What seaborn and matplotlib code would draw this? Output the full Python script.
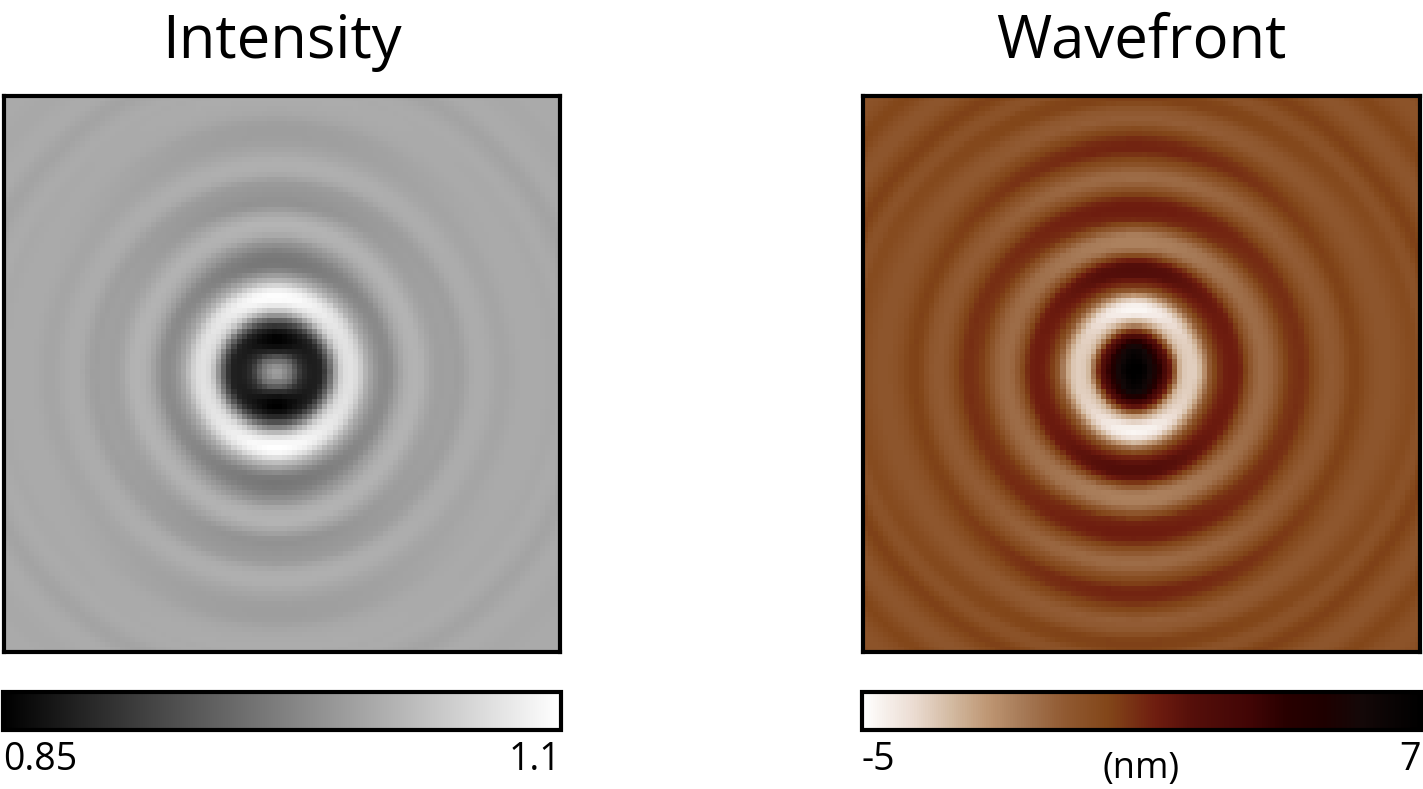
import numpy as np
import pandas as pd
import matplotlib.pyplot as plt
import seaborn as sns
from matplotlib.colors import LinearSegmentedColormap

# Radial profiles, one value per 5 px of radius
# Intensity as grey level (0-255), along the horizontal and vertical cuts
intensity_h = [160, 155, 135, 115, 80, 50, 38, 30, 30, 35, 70, 120, 175, 212, 223, 226, 218, 200, 175, 160,
               148, 140, 138, 142, 155, 166, 174, 178, 179, 177, 170, 164, 160, 159, 160, 160, 158, 160, 165, 170,
               172, 172, 171, 169, 166, 165, 165, 167, 169, 170, 170, 170, 170, 170, 169, 168, 168]
intensity_v = [160, 150, 120, 90, 40, 15, 2, 0, 12, 40, 80, 130, 185, 225, 248, 255, 248, 225, 190, 165,
               140, 122, 118, 120, 125, 138, 148, 165, 175, 179, 180, 172, 163, 150, 145, 148, 150, 152, 155, 165,
               172, 175, 175, 172, 167, 164, 160, 158, 158, 158, 160, 165, 168, 170, 171, 172, 172]
intensity_tail = [170, 171, 170, 168, 165, 163, 164, 167, 170, 171, 171, 170, 169, 168, 168, 168, 169, 170, 170, 170,
                  170, 170, 170, 170]

# Wavefront as position along the colour bar (0 = -5 nm, 1 = 7 nm)
wavefront_h = [1.0, 1.0, .97, .90, .85, .75, .65, .55, .36, .18, .13, .12, .12, .16, .25, .36, .44, .49, .52, .53,
               .53, .51, .45, .38, .34, .32, .32, .33, .35, .39, .44, .47, .48, .49, .48, .45, .42, .39, .37, .36,
               .37, .38, .41, .44, .45, .44, .42, .40, .39, .38, .38, .38, .39, .40, .41, .42, .42]
wavefront_v = [1.0, 1.0, .99, .97, .95, .88, .75, .62, .47, .25, .14, .05, .02, .04, .12, .24, .38, .48, .54, .60,
               .61, .60, .53, .42, .31, .27, .27, .28, .34, .42, .50, .52, .53, .53, .51, .46, .40, .35, .32, .32,
               .34, .39, .43, .47, .51, .51, .50, .46, .43, .38, .35, .36, .37, .41, .45, .45, .44]
wavefront_tail = [.40, .39, .40, .43, .45, .45, .43, .41, .39, .38, .38, .39, .41, .43, .44, .43, .41, .40, .39, .39,
                  .39, .40, .41, .42]

intensity_range = [0.85, 1.1]
wavefront_range = [-5, 7]

# Colour bar of the wavefront panel
wave_stops = [0, .09, .16, .225, .29, .36, .44, .527, .59, .695, .76, .83, .896, 1]
wave_colors = ['#ffffff', '#ebdcd2', '#d2b9a0', '#be9673', '#a57855', '#915a32', '#824619', '#6e1c0f',
               '#550f0a', '#410505', '#280000', '#1e0000', '#140808', '#000000']
wave_cmap = LinearSegmentedColormap.from_list('wave', list(zip(wave_stops, wave_colors)))

W, H = 1423, 789
CELL = 5.05
N_CELLS = 110
SUB = 6


def radial_grid(prof_h, prof_v, tail, cx, cy):
    # every cell averages the profile bins under it, horizontal and vertical cuts weighted by angle
    h = np.array(prof_h + tail, dtype=float)
    v = np.array(prof_v + tail, dtype=float)
    pos = (np.arange(N_CELLS * SUB) + 0.5) * CELL / SUB
    dx, dy = np.meshgrid(pos - cx, pos - cy)
    r = np.hypot(dx, dy)
    k = np.minimum(np.round(r / 5).astype(int), len(h) - 1)
    w = (dy ** 2 / np.maximum(r ** 2, 1e-6)) ** 2
    fine = (1 - w) * h[k] + w * v[k]
    return fine.reshape(N_CELLS, SUB, N_CELLS, SUB).mean(axis=(1, 3))


def px_axes(x0, y0, x1, y1):
    return fig.add_axes([x0 / W, 1 - y1 / H, (x1 - x0) / W, (y1 - y0) / H])


sns.set_theme(style='white')
plt.rcParams['font.family'] = ['Open Sans', 'DejaVu Sans']

fig = plt.figure(figsize=(W / 100, H / 100), dpi=100)

grey = radial_grid(intensity_h, intensity_v, intensity_tail, 272, 276)
wave = radial_grid(wavefront_h, wavefront_v, wavefront_tail, 271, 274)
intensity_df = pd.DataFrame(intensity_range[0] + grey / 255 * (intensity_range[1] - intensity_range[0]))
wavefront_df = pd.DataFrame(wavefront_range[0] + wave * (wavefront_range[1] - wavefront_range[0]))

panels = [
    (intensity_df, 'gray', intensity_range, ['0.85', '1.1'], 'Intensity', (4, 96, 560, 652), (3, 692, 561, 730)),
    (wavefront_df, wave_cmap, wavefront_range, ['-5', '7'], 'Wavefront', (863, 96, 1420, 652), (862, 692, 1421, 730)),
]

for df, cmap, rng, labels, title, box, cbox in panels:
    ax = px_axes(*box)
    cax = px_axes(*cbox)
    sns.heatmap(df, ax=ax, cmap=cmap, vmin=rng[0], vmax=rng[1], xticklabels=False, yticklabels=False,
                cbar_ax=cax, cbar_kws={'orientation': 'horizontal'})
    for spine in ax.spines.values():
        spine.set_visible(True)
        spine.set_color('black')
        spine.set_linewidth(3)

    cbar = ax.collections[0].colorbar
    cbar.outline.set_edgecolor('black')
    cbar.outline.set_linewidth(3)
    cbar.set_ticks(rng)
    cbar.set_ticklabels(labels)
    cax.tick_params(axis='x', length=0, pad=8, labelsize=27, labelcolor='black')
    tick_labels = cax.get_xticklabels()
    tick_labels[0].set_ha('left')
    tick_labels[1].set_ha('right')

    fig.text((box[0] + box[2]) / 2 / W, 1 - 58 / H, title, ha='center', va='baseline', fontsize=43, color='black')

fig.text(1141 / W, 1 - 778 / H, '(nm)', ha='center', va='baseline', fontsize=26, color='black')

plt.savefig('out.png', dpi=100)
